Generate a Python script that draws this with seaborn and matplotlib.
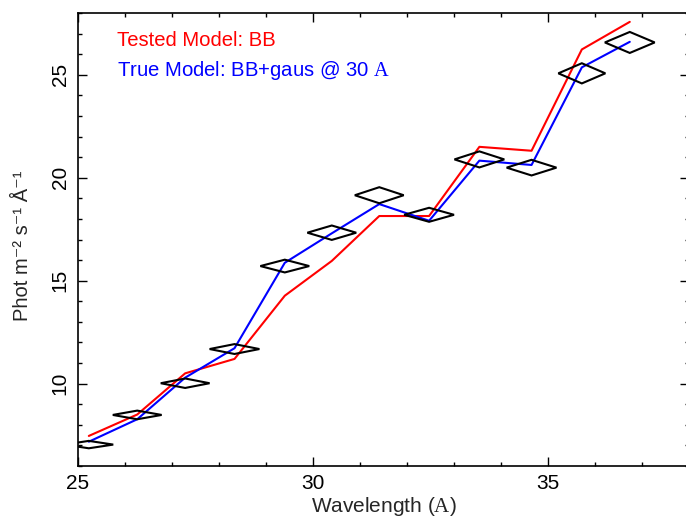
import numpy as np
import pandas as pd
import matplotlib
matplotlib.use("Agg")
import matplotlib.pyplot as plt
from matplotlib.ticker import MultipleLocator
import seaborn as sns

# ---- data ----
wavelength = [25.23, 26.26, 27.28, 28.33, 29.40, 30.40, 31.41, 32.47, 33.54, 34.65, 35.72, 36.74]
observed   = [7.04, 8.48, 10.02, 11.68, 15.71, 17.33, 19.15, 18.20, 20.89, 20.49, 25.07, 26.57]
obs_yerr   = [0.18, 0.21, 0.23, 0.24, 0.31, 0.35, 0.39, 0.34, 0.39, 0.38, 0.49, 0.51]
obs_xerr   = [0.52, 0.52, 0.52, 0.53, 0.52, 0.52, 0.52, 0.53, 0.53, 0.53, 0.50, 0.53]
tested_bb  = [7.46, 8.50, 10.50, 11.20, 14.27, 15.96, 18.14, 18.14, 21.50, 21.31, 26.23, 27.57]
true_model = [7.18, 8.27, 10.29, 11.72, 15.87, 17.30, 18.72, 17.91, 20.83, 20.62, 25.36, 26.60]

label_tested = "Tested Model: BB"
label_true = "True Model: BB+gaus @ 30 $\\mathrm{A}$"

sns.set_theme(style="ticks")
plt.rcParams["font.family"] = ["Liberation Sans", "DejaVu Sans"]
plt.rcParams["mathtext.fontset"] = "custom"
plt.rcParams["mathtext.rm"] = "Liberation Serif"
plt.rcParams["mathtext.sf"] = "Liberation Sans"
plt.rcParams["mathtext.it"] = "Liberation Sans:italic"

fig = plt.figure(figsize=(6.86, 5.16), dpi=100)
ax = fig.add_axes([78/686, 50/516, 611/686, 453/516])

df = pd.DataFrame({
    "wavelength": wavelength * 2,
    "flux": tested_bb + true_model,
    "model": ["tested"] * len(wavelength) + ["true"] * len(wavelength),
})
sns.lineplot(data=df, x="wavelength", y="flux", hue="model",
             palette={"tested": "#ff0000", "true": "#0000ff"},
             linewidth=1.5, legend=False, ax=ax, sort=False)

# error diamonds
for x, y, dx, dy in zip(wavelength, observed, obs_xerr, obs_yerr):
    ax.fill([x - dx, x, x + dx, x, x - dx], [y, y + dy, y, y - dy, y],
            facecolor="none", edgecolor="black", linewidth=1.5, zorder=3)

ax.set_xlim(25, 38)
ax.set_ylim(6, 28)
ax.xaxis.set_major_locator(MultipleLocator(5))
ax.xaxis.set_minor_locator(MultipleLocator(1))
ax.yaxis.set_major_locator(MultipleLocator(5))
ax.yaxis.set_minor_locator(MultipleLocator(1))
ax.tick_params(which="both", direction="in", top=True, right=True,
               labelsize=15, colors="black", width=1.0)
ax.tick_params(which="major", length=6.5, pad=6)
ax.tick_params(which="minor", length=3)
for lab in ax.get_yticklabels():
    lab.set_rotation(90)
    lab.set_va("center")
for s in ax.spines.values():
    s.set_linewidth(1.2)
    s.set_color("black")

ax.set_xlabel("Wavelength ($\\mathrm{A}$)", fontsize=15, labelpad=1)
ax.set_ylabel("Phot m\u207b\u00b2 s\u207b\u00b9 \u00c5\u207b\u00b9", fontsize=14.5)
ax.yaxis.set_label_coords(-0.075, 0.486)

fig.text(117/686, 1 - 40/516, label_tested,
         color="#ff0000", fontsize=14.6, va="center", ha="left")
fig.text(117/686, 1 - 70/516, label_true,
         color="#0000ff", fontsize=14.6, va="center", ha="left")

fig.savefig("out.png", dpi=100)
